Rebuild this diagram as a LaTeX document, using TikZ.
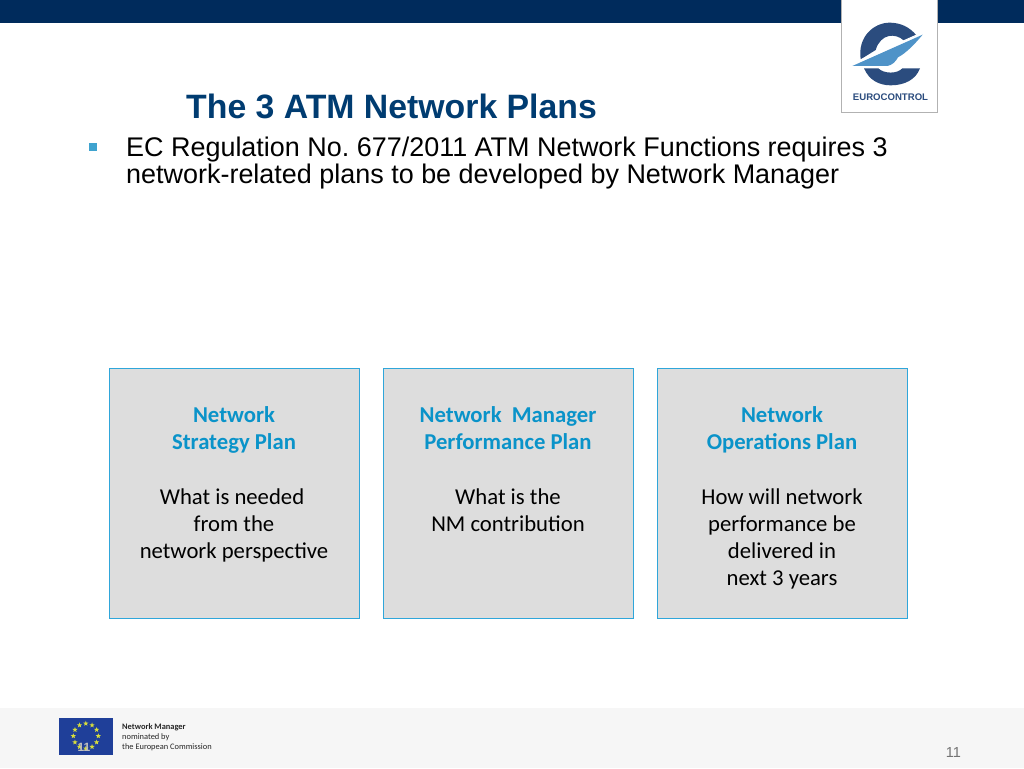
\documentclass[tikz,border=0pt]{standalone}
\usepackage{fontspec}
\setmainfont{Liberation Sans}
\newfontfamily\carl{Carlito}
\usetikzlibrary{shapes.geometric}
\definecolor{navy}{HTML}{002B5C}
\definecolor{titleblue}{HTML}{003C71}
\definecolor{boxline}{HTML}{2FA6DA}
\definecolor{bulletblue}{HTML}{3FA3CF}
\definecolor{boxfill}{HTML}{DDDDDD}
\definecolor{headblue}{HTML}{0A93C9}
\definecolor{logodark}{HTML}{2B4C7E}
\definecolor{logolight}{HTML}{4F93C8}
\definecolor{footgrey}{HTML}{F6F6F6}
\definecolor{flagblue}{HTML}{1F3F99}
\definecolor{stargold}{HTML}{D8DE3C}
\tikzset{
  planbox/.style={draw=boxline,line width=1.4pt,fill=boxfill,minimum width=250pt,minimum height=250pt,inner sep=0pt,anchor=north west},
  plantext/.style={font=\carl\fontsize{22.7}{27.3}\selectfont,align=center,anchor=north,inner sep=0pt,text=black},
  flagstar/.style={star,star points=5,star point ratio=2.4,fill=stargold,inner sep=0pt,minimum size=5.5pt},
}
\newcommand{\hd}[1]{\textcolor{headblue}{\bfseries #1}}
\frenchspacing
\begin{document}
\begin{tikzpicture}[x=1pt,y=-1pt]
\useasboundingbox (0,0) rectangle (1024,768);
\fill[white] (0,0) rectangle (1024,768);
% top band
\fill[navy] (0,0) rectangle (1024,23);
% logo card
\draw[fill=white,draw=black!30,line width=0.8pt] (841,-2) rectangle (937,112);
\begin{scope}[shift={(824,0)},x=0.3333pt,y=-0.3333pt]
  \fill[logodark] (110,178) .. controls (100,110) and (150,68) .. (197,68) .. controls (230,68) and (258,82) .. (277,106) -- (240,122) .. controls (215,98) and (170,100) .. (155,150) -- cycle;
  \fill[logodark] (120,205) .. controls (135,240) and (165,256) .. (200,256) .. controls (240,256) and (275,240) .. (288,205) -- (235,205) .. controls (220,222) and (180,222) .. (163,205) -- cycle;
  \fill[logolight] (85,198) -- (296,104) .. controls (270,135) and (245,160) .. (222,172) .. controls (215,185) and (205,195) .. (190,198) -- cycle;
  \draw[white,line width=1pt] (100,184) -- (285,102);
\end{scope}
\node[font=\bfseries\fontsize{9.6}{12}\selectfont,text=logodark,inner sep=0pt] (logotext) at (890.5,97) {EUROCONTROL};
% title
\node[font=\bfseries\fontsize{33.8}{36}\selectfont,text=titleblue,anchor=base west,inner sep=0pt] (title) at (186,118.5) {The 3 ATM Network Plans};
% bullet
\fill[bulletblue] (88.5,143) rectangle (97,151);
\node[font=\fontsize{26.95}{27}\selectfont,anchor=north west,align=left,inner sep=0pt,text=black] (body) at (126,136.5) {EC Regulation No. 677/2011 ATM Network Functions requires 3\\network-related plans to be developed by Network Manager};
% boxes
\node[planbox] (a) at (109,367.5) {};
\node[planbox] (b) at (383,367.5) {};
\node[planbox] (c) at (657,367.5) {};
\node[plantext] (ta) at (234,406) {\hd{Network}\\\hd{Strategy Plan}\\[27.3pt]What is needed\rule{4pt}{0pt}\\from the\\network perspective};
\node[plantext] (tb) at (508,406) {\hd{Network\ \ Manager}\\\hd{Performance Plan}\\[27.3pt]What is the\\NM contribution};
\node[plantext] (tc) at (782,406) {\hd{Network}\\\hd{Operations Plan}\\[27.3pt]How will network\\performance be\\delivered in\\next 3 years};
% footer
\fill[footgrey] (0,708) rectangle (1024,768);
\fill[flagblue] (58.5,717.5) rectangle (113,755);
\foreach \a in {0,30,...,330}
  \node[flagstar] at ({85.8+12.5*cos(\a)},{736+12.5*sin(\a)}) {};
\node[font=\bfseries\fontsize{12}{12}\selectfont,text=black!25,inner sep=0pt] (flagnum) at (84,747) {11};
\node[font=\carl\fontsize{8.4}{10}\selectfont,anchor=north west,align=left,inner sep=0pt,text=black!85] (foot) at (122,723) {\textbf{Network Manager}\\nominated by\\the European Commission};
\node[font=\fontsize{14.5}{14}\selectfont,text=black!55,anchor=base east,inner sep=0pt] (page) at (961,757) {11};
\end{tikzpicture}
\end{document}
